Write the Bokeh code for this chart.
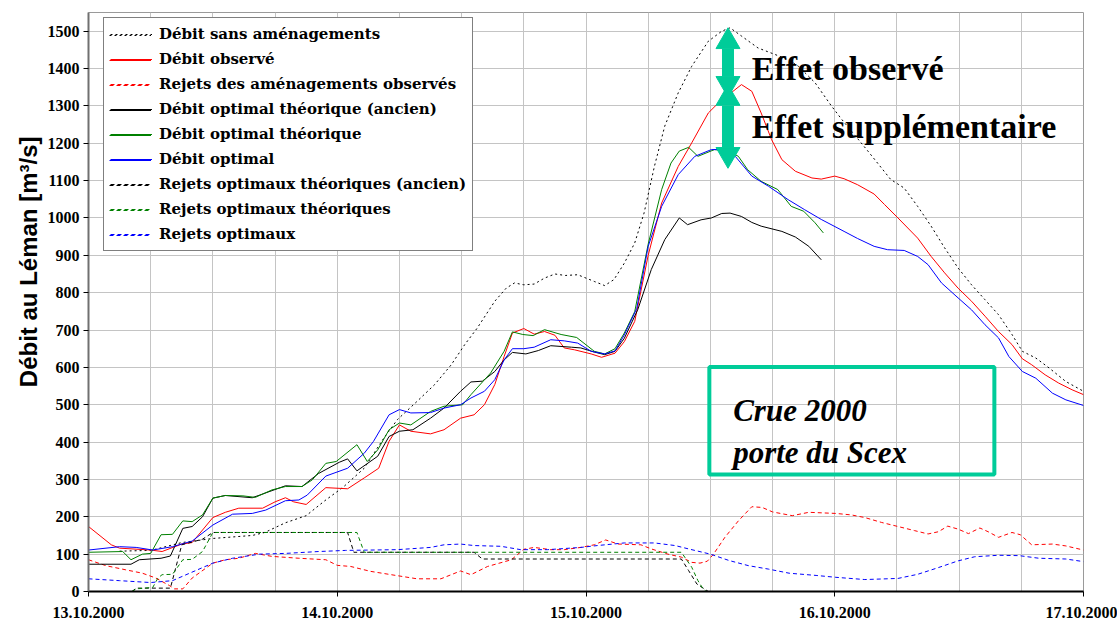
import pandas as pd
from bokeh.plotting import figure
from bokeh.models import (SingleIntervalTicker, DatetimeTickFormatter, Range1d, Label,
                          BoxAnnotation, Title, Legend, LegendItem)
from bokeh.embed import file_html
from bokeh.resources import INLINE

START = "2000-10-13 00:00"
END = "2000-10-17 00:00"
Y_MAX = 1550
Y_TITLE = "Débit au Léman [m³/s]"

# ---- data: hours since 13.10.2000 00:00, flows in m3/s ----
sans_h = [3, 6, 9, 12, 15.8, 17, 19, 21, 22.8, 24.6, 26.6, 28.5, 29.8, 31.7, 33.4, 35, 36.3, 37.5,
          39.2, 40.3, 41.1, 42, 43, 44, 45, 46, 47.2, 48.8, 49.8, 50.7, 51.7, 52.7, 53.6, 54.6,
          55.6, 56.9, 58.2, 59.8, 61.1, 61.9, 63, 64.6, 66.2, 67.5, 68.5, 70.1, 71.7, 72.7, 75.2,
          77.4, 78.7, 80, 81.3, 82.6, 83.9, 85.2, 86.5, 87.8, 89.1, 90.1, 91.4, 92.7, 94.3, 96]
sans_v = [108, 110, 131, 142, 150, 158, 184, 203, 243, 280, 330, 411, 460, 509, 554, 607, 661, 705,
          777, 812, 826, 821, 823, 839, 850, 846, 848, 830, 819, 835, 879, 933, 1013, 1138,
          1246, 1335, 1406, 1473, 1500, 1509, 1487, 1455, 1438, 1424, 1406, 1362, 1299, 1263, 1179,
          1103, 1080, 1031, 978, 920, 866, 821, 781, 741, 688, 643, 625, 598, 562, 536]

obs_h = [0, 2.2, 3, 6, 7.1, 9, 10, 12, 13.2, 14.5, 16.8, 18, 19, 19.8, 21, 22.9, 25, 26.6, 28, 29,
         30, 31.1, 33, 34.3, 35.9, 37.2, 38.2, 39.2, 40.1, 40.9, 42, 43, 44, 45, 45.9, 46.9, 48.5,
         49.5, 50.8, 51.7, 52.7, 54, 55.3, 56.9, 58.2, 59.8, 61.1, 62, 63, 64, 64.9, 65.9, 66.9,
         68.2, 69.8, 70.7, 72, 72.9, 74.2, 75.8, 76.8, 78.1, 80, 81.3, 82.6, 83.9, 85.2, 86.5,
         87.8, 89.1, 90.1, 91, 92.3, 93.6, 94.9, 96]
obs_v = [174, 125, 116, 111, 107, 127, 131, 198, 212, 223, 223, 240, 251, 240, 233, 278, 275, 304,
         330, 402, 446, 429, 422, 433, 464, 473, 500, 554, 629, 692, 704, 689, 696, 686, 652, 647,
         636, 627, 638, 669, 723, 900, 1040, 1138, 1201, 1281, 1317, 1335, 1357, 1339, 1281, 1210,
         1156, 1125, 1107, 1104, 1112, 1105, 1089, 1064, 1036, 1000, 946, 897, 853, 812, 777, 737,
         696, 661, 623, 607, 580, 558, 540, 527]

rej_obs_h = [0, 1.7, 3.6, 5.2, 6.5, 7.8, 8.3, 9.1, 10, 12, 13.2, 14.5, 16.1, 17.7, 20.3, 22.9, 24,
             25.3, 27.2, 29.2, 31.7, 34, 35.9, 36.9, 38.5, 40.8, 42, 43, 44.6, 45.9, 47.5, 48.8,
             49.9, 51.1, 53.3, 54.3, 55.9, 57.2, 58.2, 59, 59.7, 60.3, 61.4, 62.7, 64, 65, 66,
             67.9, 69.5, 72.1, 73.6, 74.9, 76.5, 78.1, 79.7, 81, 82, 82.9, 83.9, 84.9, 86, 86.8,
             87.8, 89.1, 89.9, 91, 93, 94.3, 96]
rej_obs_v = [85, 69, 58, 49, 36, 16, 7, 7, 36, 76, 85, 89, 102, 94, 89, 85, 70, 67, 54, 45, 34, 34,
             55, 45, 67, 85, 113, 118, 112, 112, 118, 125, 138, 127, 125, 114, 100, 92, 78, 76, 81,
             100, 145, 189, 227, 225, 213, 203, 212, 209, 205, 198, 185, 174, 163, 154, 160, 175,
             167, 155, 170, 160, 145, 158, 152, 125, 127, 122, 111]

anc_h = [0, 4.1, 4.9, 7, 7.9, 9.1, 10, 11, 12, 13.2, 15.8, 19, 20.6, 22.2, 24.2, 25, 25.9, 27.9, 29,
         30, 31.3, 33, 34.3, 35.9, 36.9, 38, 39.2, 40.1, 40.9, 42.2, 43.4, 44.6, 46.6, 47.5, 48.8,
         49.8, 50.8, 51.7, 53, 54.3, 55.6, 57, 57.8, 59.1, 60.1, 61.1, 61.9, 63, 64, 64.9, 66.9,
         68.2, 69.5, 70.7]
anc_v = [73, 73, 85, 89, 95, 169, 174, 200, 250, 257, 251, 283, 281, 316, 346, 355, 323, 362, 415,
         429, 433, 464, 491, 536, 561, 563, 589, 620, 640, 636, 645, 658, 654, 652, 641, 634, 643,
         678, 755, 862, 942, 1000, 982, 995, 1000, 1012, 1013, 1004, 988, 978, 964, 949, 924, 888]

theo_h = [0, 3.3, 4.1, 5.2, 6, 7, 8.1, 9.1, 10, 11, 12, 13.2, 14.9, 16.1, 17.7, 19, 20.6, 21.6,
          22.9, 23.9, 25.9, 26.9, 27.9, 29, 30, 31.1, 33, 34.3, 36.1, 36.9, 38.8, 40.1, 40.9,
          41.9, 42.9, 44, 45.6, 47.1, 48.8, 49.8, 50.8, 51.7, 52.7, 54, 55.3, 56.2, 57, 57.9,
          58.8, 60.4, 61.7, 62.7, 63.6, 64.9, 66.5, 67.8, 69, 70.1, 70.9]
theo_v = [105, 107, 85, 100, 102, 152, 153, 189, 187, 205, 250, 257, 256, 252, 272, 281, 281, 299,
          343, 348, 393, 348, 379, 433, 451, 446, 482, 496, 500, 527, 585, 643, 695, 688, 685,
          701, 688, 680, 643, 636, 650, 692, 749, 930, 1076, 1147, 1179, 1189, 1165, 1183, 1179,
          1165, 1129, 1098, 1076, 1031, 1018, 987, 960]

opt_h = [0, 3, 4.6, 6.2, 8.1, 10, 12, 13.9, 15.8, 17.1, 19, 20.3, 21.1, 22.9, 25, 26.6, 27.5, 29,
         30, 31.1, 33, 34.3, 35.9, 36.9, 38.2, 39.2, 40.1, 40.9, 42, 43, 44.6, 45.9, 47.2, 48.5,
         49.8, 50.8, 51.7, 52.9, 54, 55.3, 56.9, 58.5, 60.1, 61.1, 62.4, 64, 65.6, 67.5, 69.1,
         70.7, 72.9, 74.2, 75.8, 77.1, 78.7, 80, 81, 82.3, 83.9, 85.2, 86.5, 87.8, 88.8, 90.1,
         91.4, 93, 94.3, 96]
opt_v = [111, 120, 118, 111, 120, 135, 178, 207, 209, 218, 243, 245, 258, 309, 330, 370, 402, 473,
         487, 478, 479, 491, 500, 518, 536, 567, 620, 650, 650, 654, 674, 671, 665, 643, 636, 644,
         687, 758, 924, 1031, 1116, 1165, 1183, 1183, 1165, 1112, 1085, 1049, 1022, 996, 964, 945,
         924, 915, 913, 897, 875, 826, 786, 754, 714, 679, 629, 589, 571, 531, 513, 498]

rej_anc_h = [4.2, 4.6, 7.9, 9, 11, 12, 25, 25.6, 37.2, 38, 57.2, 57.9, 58.7, 59.8]
rej_anc_v = [0, 9, 9, 125, 140, 158, 158, 105, 105, 87, 87, 56, 20, 0]

rej_theo_h = [4.2, 4.6, 6.2, 6.7, 7.1, 8.1, 9.1, 10, 11, 12, 25.9, 26.6, 57.2, 58.2, 58.8, 59.3, 59.6]
rej_theo_v = [0, 7, 11, 36, 45, 46, 85, 86, 107, 158, 158, 105, 105, 65, 29, 7, 0]

rej_opt_h = [0, 3, 6, 8.1, 12, 13.9, 16.5, 19, 22.2, 24.8, 29.8, 33, 34.3, 35.9, 37.2, 39.8, 41.7,
             44.3, 47.5, 49.1, 51.7, 54.6, 56.6, 57.9, 60, 61.8, 63.7, 65.6, 67.6, 70.2, 72.1, 74.9,
             78.1, 80, 82, 83.9, 85.5, 87.8, 89.8, 91.7, 94.3, 96]
rej_opt_v = [34, 29, 24, 29, 76, 89, 100, 102, 107, 110, 112, 118, 125, 127, 123, 121, 112, 112,
             118, 123, 130, 130, 123, 114, 100, 83, 69, 60, 49, 43, 38, 32, 35, 46, 64, 82, 93, 97,
             96, 89, 87, 80]

# annotations (hours / m3/s)
arrow_h = 61.7
arrow_tips_top = [1492, 1340]      # upper tip of each double arrow
arrow_tips_bottom = [1340, 1150]   # lower tip of each double arrow
head_len = 40                      # arrow head length in m3/s
effet_h = 64.0
effet_texts = ["Effet observé", "Effet supplémentaire"]
effet_v = [1400, 1245]
crue_box = dict(h0=59.9, h1=87.4, v0=313, v1=601)
crue_texts = ["Crue 2000", "porte du Scex"]
crue_h = 62.2
crue_v = [484, 372]

T0 = pd.Timestamp(START)


def tt(hours):
    return [T0 + pd.Timedelta(hours=h) for h in hours]


def ms(h):
    return (T0 + pd.Timedelta(hours=h)).value / 1e6


TEAL = "#00CC99"

p = figure(width=1117, height=623, output_backend="svg", toolbar_location=None,
           x_axis_type="datetime",
           x_range=Range1d(pd.Timestamp(START), pd.Timestamp(END)),
           y_range=Range1d(0, Y_MAX),
           min_border_left=88, min_border_right=34, min_border_top=12, min_border_bottom=32)
p.background_fill_color = "white"
p.border_fill_color = "white"
p.outline_line_color = "#9a9a9a"

series = [
    (sans_h, sans_v, "#000000", "2 3", "Débit sans aménagements"),
    (obs_h, obs_v, "#FF0000", "solid", "Débit observé"),
    (rej_obs_h, rej_obs_v, "#FF0000", "4 3", "Rejets des aménagements observés"),
    (anc_h, anc_v, "#000000", "solid", "Débit optimal théorique (ancien)"),
    (theo_h, theo_v, "#008000", "solid", "Débit optimal théorique"),
    (opt_h, opt_v, "#0000FF", "solid", "Débit optimal"),
    (rej_anc_h, rej_anc_v, "#000000", "4 3", "Rejets optimaux théoriques (ancien)"),
    (rej_theo_h, rej_theo_v, "#008000", "4 3", "Rejets optimaux théoriques"),
    (rej_opt_h, rej_opt_v, "#0000FF", "4 3", "Rejets optimaux"),
]
renderers = []
for h, v, c, dash, name in series:
    r = p.line(tt(h), v, line_color=c, line_width=1, line_dash=dash)
    renderers.append((name, r))

# double arrows: thick shaft + triangular heads (markers)
ax_t = tt([arrow_h, arrow_h])
p.segment(x0=ax_t, y0=[t - head_len for t in arrow_tips_top],
          x1=ax_t, y1=[b + head_len for b in arrow_tips_bottom],
          line_color=TEAL, line_width=12)
p.scatter(x=ax_t, y=[t - head_len / 2 for t in arrow_tips_top], marker="triangle",
          size=24, fill_color=TEAL, line_color=TEAL)
p.scatter(x=ax_t, y=[b + head_len / 2 for b in arrow_tips_bottom], marker="inverted_triangle",
          size=24, fill_color=TEAL, line_color=TEAL)

# axes
p.xaxis.ticker = SingleIntervalTicker(interval=24 * 3600 * 1000, num_minor_ticks=0)
fmt = "%d.%m.%Y"
p.xaxis.formatter = DatetimeTickFormatter(days=fmt, months=fmt, hours=fmt, hourmin=fmt,
                                          minutes=fmt, seconds=fmt, years=fmt)
p.xgrid.ticker = SingleIntervalTicker(interval=6 * 3600 * 1000, num_minor_ticks=0)
p.yaxis.ticker = SingleIntervalTicker(interval=100, num_minor_ticks=0)
for ax in (p.xaxis, p.yaxis):
    ax.major_label_text_font = "Liberation Serif"
    ax.major_label_text_font_style = "bold"
    ax.major_label_text_font_size = "16px"
    ax.major_label_text_color = "black"
    ax.minor_tick_line_color = None
    ax.major_tick_in = 0
    ax.major_tick_out = 5
    ax.major_tick_line_color = "black"
p.xaxis.axis_line_color = "black"
p.xaxis.axis_line_width = 2
p.xaxis.major_label_standoff = 10
p.yaxis.axis_line_color = "#707070"
p.yaxis.axis_line_width = 2
p.yaxis.major_label_standoff = 4
p.grid.grid_line_color = "#c4c4c4"
p.grid.grid_line_width = 1

# y-axis title as a side title, anchored toward the top like the original
p.add_layout(Title(text=Y_TITLE, align="right", offset=124, standoff=6,
                   text_font="Liberation Sans", text_font_style="bold",
                   text_font_size="24px", text_color="black"), "left")

for txt, v in zip(effet_texts, effet_v):
    p.add_layout(Label(x=ms(effet_h), y=v, text=txt, text_font="Liberation Serif",
                       text_font_style="bold", text_font_size="34px",
                       text_baseline="middle", text_color="black"))

p.add_layout(BoxAnnotation(left=ms(crue_box["h0"]), right=ms(crue_box["h1"]),
                           bottom=crue_box["v0"], top=crue_box["v1"],
                           fill_alpha=0, line_color=TEAL, line_width=4, line_alpha=1))
for txt, v in zip(crue_texts, crue_v):
    p.add_layout(Label(x=ms(crue_h), y=v, text=txt, text_font="Liberation Serif",
                       text_font_style="bold italic", text_font_size="31px",
                       text_baseline="alphabetic", text_color="black"))


def style_legend(lg, padding):
    lg.label_text_font = "DejaVu Serif"
    lg.label_text_font_style = "bold"
    lg.label_text_font_size = "15px"
    lg.label_text_color = "black"
    lg.glyph_width = 42
    lg.glyph_height = 20
    lg.label_height = 20
    lg.label_standoff = 7
    lg.spacing = 5
    lg.padding = padding
    lg.margin = 0


# main legend (frame, labels, samples)
LEG_X, LEG_Y, PAD, ROW = 15, 340, 6, 25
lg = Legend(items=[LegendItem(label=n, renderers=[r]) for n, r in renderers],
            location=(LEG_X, LEG_Y))
lg.border_line_color = "black"
lg.border_line_width = 1
lg.background_fill_color = "white"
lg.background_fill_alpha = 1
style_legend(lg, PAD)
p.add_layout(lg, "center")

# one single-entry legend per series laid exactly over each sample, so every
# sample is painted on its own with the series' own line style
n_items = len(renderers)
leg_top = LEG_Y + n_items * 20 + (n_items - 1) * 5 + 2 * PAD
for k, (n, r) in enumerate(renderers):
    one = Legend(items=[LegendItem(label=n, renderers=[r])],
                 location=(LEG_X + PAD, leg_top - PAD - ROW * k - 20))
    one.border_line_alpha = 0
    one.background_fill_alpha = 0
    one.label_text_alpha = 0
    style_legend(one, 0)
    p.add_layout(one, "center")

open("out.html", "w").write(file_html(p, INLINE))
